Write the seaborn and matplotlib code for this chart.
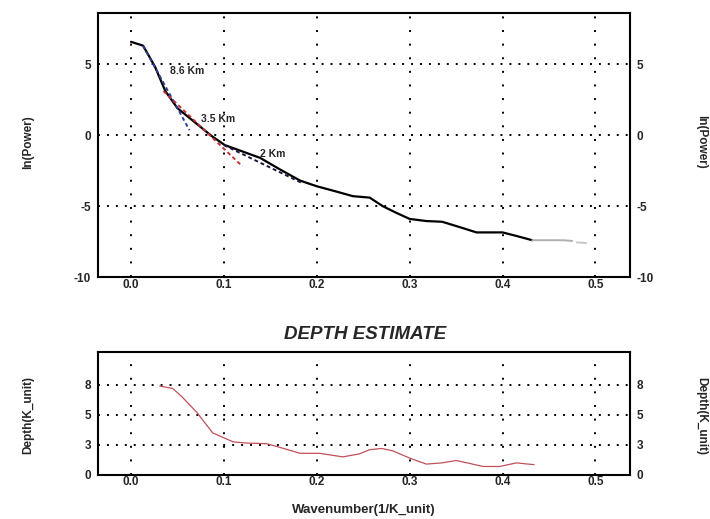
import numpy as np
import pandas as pd
import seaborn as sns
import matplotlib.pyplot as plt

# power spectrum
k_pow = [0.0, 0.013, 0.02, 0.026, 0.037, 0.05, 0.066, 0.087, 0.101, 0.12, 0.139, 0.16,
         0.182, 0.2, 0.217, 0.239, 0.257, 0.271, 0.285, 0.3, 0.318, 0.335, 0.355, 0.372,
         0.4, 0.415, 0.432]
ln_pow = [6.57, 6.3, 5.5, 4.8, 3.1, 1.9, 1.05, -0.07, -0.7, -1.15, -1.6, -2.4,
          -3.2, -3.6, -3.9, -4.3, -4.4, -5.0, -5.45, -5.9, -6.05, -6.1, -6.5, -6.85,
          -6.85, -7.1, -7.4]
k_tail = [0.432, 0.465, 0.475]
ln_tail = [-7.4, -7.4, -7.45]
k_tail2 = [0.48, 0.49]
ln_tail2 = [-7.55, -7.6]

# slope fits
fit_names = ['8.6 Km', '3.5 Km', '2 Km']
fit_k = [[0.013, 0.063], [0.035, 0.12], [0.1, 0.185]]
fit_ln = [[6.3, 0.35], [3.1, -2.2], [-0.7, -3.4]]
fit_colors = ['#2a3f9a', '#c0323a', '#1a1a40']
label_pos = [(0.061, 4.5), (0.094, 1.1), (0.153, -1.3)]

# depth estimate
k_dep = [0.031, 0.045, 0.055, 0.071, 0.088, 0.11, 0.125, 0.146, 0.16, 0.182, 0.203,
         0.228, 0.246, 0.257, 0.27, 0.282, 0.3, 0.318, 0.335, 0.35, 0.365, 0.379,
         0.397, 0.415, 0.434]
depth = [7.4, 7.2, 6.5, 5.2, 3.5, 2.75, 2.65, 2.6, 2.3, 1.8, 1.8,
         1.5, 1.75, 2.1, 2.2, 2.0, 1.4, 0.9, 1.0, 1.2, 0.95, 0.7,
         0.7, 1.0, 0.85]

xticks = [0.0, 0.1, 0.2, 0.3, 0.4, 0.5]
pow_ticks = [5, 0, -5, -10]
dep_ticks = [0, 2.5, 5, 7.5]
dep_labels = ['0', '3', '5', '8']

sns.set_style('white')
plt.rcParams['font.family'] = ['Liberation Sans', 'DejaVu Sans']
plt.rcParams['font.weight'] = 'bold'
plt.rcParams['axes.unicode_minus'] = False

fig = plt.figure(figsize=(7.1, 5.19), dpi=100)
ax1 = fig.add_axes([0.138, 0.466, 0.749, 0.509])
ax2 = fig.add_axes([0.138, 0.085, 0.749, 0.237])

sns.lineplot(x=k_pow, y=ln_pow, ax=ax1, color='black', lw=1.6, sort=False)
sns.lineplot(x=k_tail, y=ln_tail, ax=ax1, color='#b0b0b0', lw=1.4, sort=False)
sns.lineplot(x=k_tail2, y=ln_tail2, ax=ax1, color='#c8c8c8', lw=1.4, sort=False)
for name, kx, ly, c, (tx, ty) in zip(fit_names, fit_k, fit_ln, fit_colors, label_pos):
    sns.lineplot(x=kx, y=ly, ax=ax1, color=c, lw=1.4, linestyle=(0, (2, 1.5)), sort=False)
    ax1.text(tx, ty, name, fontsize=7.5, fontweight='bold', ha='center', va='center')

sns.lineplot(x=k_dep, y=depth, ax=ax2, color='#c0505a', lw=0.9, sort=False)

for ax in (ax1, ax2):
    ax.set_xlim(-0.0355, 0.537)
    ax.set_xticks(xticks)
    ax.set_xticklabels([f'{v:.1f}' for v in xticks])
    ax.xaxis.grid(True, color='black', lw=1.4, linestyle=(0, (1, 6)))
    ax.yaxis.grid(True, color='black', lw=1.4, linestyle=(0, (1, 3.6)))
    ax.tick_params(length=0, labelsize=8.5, labelright=True, pad=5)
    ax.tick_params(axis='x', pad=1)
    for s in ax.spines.values():
        s.set_visible(True)
        s.set_color('black')
        s.set_linewidth(1.5)
    ax.set_xlabel('')
    ax.set_ylabel('')

ax1.set_ylim(-10, 8.6)
ax1.set_yticks(pow_ticks)
ax2.set_ylim(0, 10.25)
ax2.set_yticks(dep_ticks)
ax2.set_yticklabels(dep_labels)

fig.text(0.04, 0.726, 'ln(Power)', rotation=90, ha='center', va='center', fontsize=8.5)
fig.text(0.988, 0.726, 'ln(Power)', rotation=270, ha='center', va='center', fontsize=8.5)
fig.text(0.04, 0.2, 'Depth(K_unit)', rotation=90, ha='center', va='center', fontsize=8.5)
fig.text(0.988, 0.198, 'Depth(K_unit)', rotation=270, ha='center', va='center', fontsize=8.5)
fig.text(0.514, 0.356, 'DEPTH ESTIMATE', ha='center', va='center', fontsize=13.5,
         fontweight='bold', fontstyle='italic')
fig.text(0.513, 0.018, 'Wavenumber(1/K_unit)', ha='center', va='center', fontsize=9.5)

fig.savefig('out.png', dpi=100)
